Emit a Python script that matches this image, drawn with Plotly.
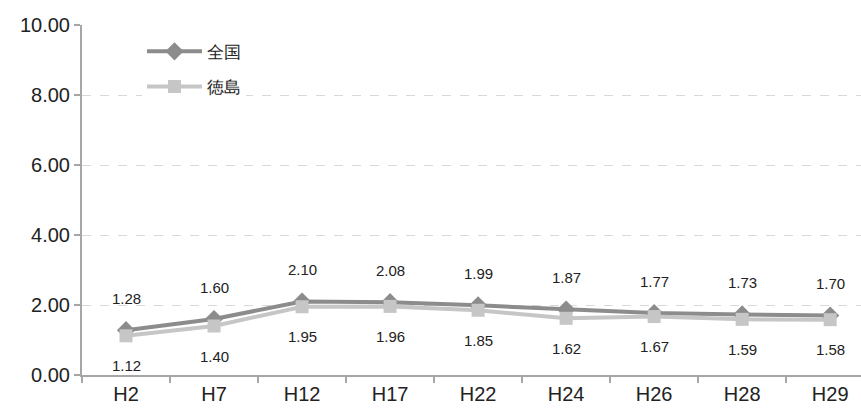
import plotly.graph_objects as go

categories = ["H2", "H7", "H12", "H17", "H22", "H24", "H26", "H28", "H29"]
zenkoku = [1.28, 1.60, 2.10, 2.08, 1.99, 1.87, 1.77, 1.73, 1.70]
tokushima = [1.12, 1.40, 1.95, 1.96, 1.85, 1.62, 1.67, 1.59, 1.58]
y_ticks = [0, 2, 4, 6, 8, 10]
y_tick_labels = ["0.00", "2.00", "4.00", "6.00", "8.00", "10.00"]

FONT = "Liberation Sans, Arial, sans-serif"
DARK = "#8c8c8c"
LIGHT = "#c6c6c6"

fig = go.Figure()
fig.add_trace(go.Scatter(
    x=categories, y=zenkoku, name="全国", mode="lines+markers",
    line=dict(color=DARK, width=4),
    marker=dict(symbol="diamond", size=14, color=DARK),
    legendgroup="a",
))
fig.add_trace(go.Scatter(
    x=categories, y=tokushima, name="徳島", mode="lines+markers",
    line=dict(color=LIGHT, width=4),
    marker=dict(symbol="square", size=13, color=LIGHT),
    legendgroup="b",
))

annotations = []
for c, v in zip(categories, zenkoku):
    annotations.append(dict(x=c, y=v, text=f"{v:.2f}", showarrow=False,
                            yshift=32, font=dict(size=15, color="#222", family=FONT)))
for c, v in zip(categories, tokushima):
    annotations.append(dict(x=c, y=v, text=f"{v:.2f}", showarrow=False,
                            yshift=-30, font=dict(size=15, color="#222", family=FONT)))

fig.update_layout(
    width=861, height=410,
    margin=dict(l=82, r=0, t=25, b=35),
    paper_bgcolor="white", plot_bgcolor="white",
    font=dict(family=FONT, color="#222"),
    showlegend=True,
    legend=dict(
        x=0.077, y=0.975, xanchor="left", yanchor="top",
        bgcolor="white", font=dict(size=17, family=FONT),
        traceorder="grouped", tracegroupgap=10, itemwidth=55,
    ),
    annotations=annotations,
    xaxis=dict(
        type="category", range=[-0.5, 8.35],
        showline=True, linecolor="#a6a6a6", linewidth=2,
        ticks="outside", tickson="boundaries", ticklen=6, tickcolor="#a6a6a6", tickwidth=1.5,
        tickfont=dict(size=20, family=FONT, color="#222"),
        showgrid=False, zeroline=False,
    ),
    yaxis=dict(
        range=[0, 10], tickvals=y_ticks, ticktext=y_tick_labels,
        showline=True, linecolor="#a6a6a6", linewidth=2,
        ticks="outside", ticklen=6, tickcolor="#a6a6a6", tickwidth=1.5,
        tickfont=dict(size=20, family=FONT, color="#222"),
        showgrid=True, gridcolor="#d9d9d9", griddash="dash", gridwidth=1,
        zeroline=False,
    ),
)

fig.write_html("out.html", config={"displayModeBar": False},
               post_script="document.body.style.margin='0';")
